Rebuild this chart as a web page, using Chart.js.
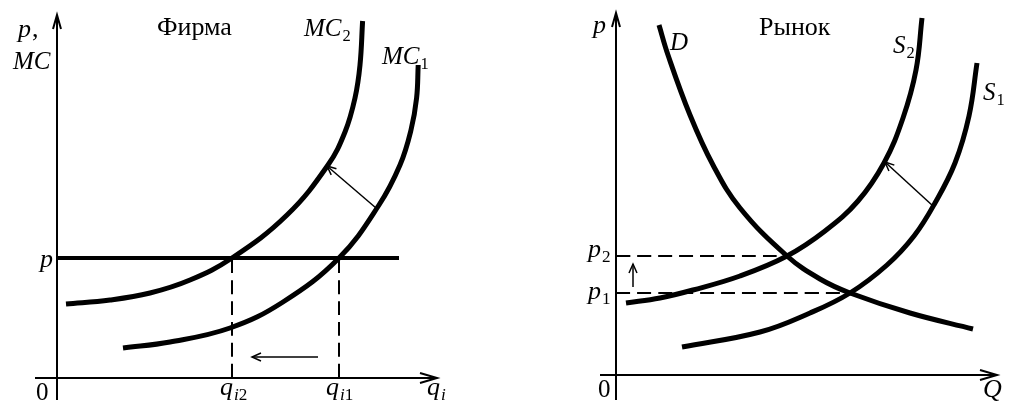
<!DOCTYPE html>
<html>
<head>
<meta charset="utf-8">
<script src="https://cdn.jsdelivr.net/npm/chart.js@4.4.0/dist/chart.umd.min.js"></script>
<style>
  html, body { margin: 0; padding: 0; background: #fff; }
  #wrap { display: flex; width: 1024px; height: 419px; }
  .panel { position: relative; width: 512px; height: 419px; }
</style>
</head>
<body>
<div id="wrap">
  <div class="panel"><canvas id="firm"></canvas></div>
  <div class="panel"><canvas id="market"></canvas></div>
</div>
<script>
// ---- Фирма (left panel) ----
const mc2Q = [2.25, 13.25, 23.25, 33.25, 43.75, 57.5, 67.75, 72, 74.5, 75.75, 76.4];
const mc2P = [18.5, 19.5, 21.25, 24.5, 30, 40.75, 53.25, 61.5, 70, 78.25, 89.25];
const mc1Q = [16.5, 28.25, 43.25, 56.5, 70.5, 80.5, 85.75, 88.5, 89.9, 90.3];
const mc1P = [7.5, 9, 12.5, 19, 30, 43.25, 53.25, 62, 70, 78.25];
const firmPrice = 30;
const firmPriceEnd = 85.5;
const qi2 = 43.75;
const qi1 = 70.5;

// ---- Рынок (right panel) ----
const demandQ = [10.75, 13, 18.5, 24.25, 31, 42.75, 51, 58.5, 73.5, 89.25];
const demandP = [87.5, 80, 65, 52.5, 41.75, 29.75, 24, 20.5, 15.5, 11.5];
const s2Q = [2.5, 11, 19.25, 31, 42.75, 52.25, 60.5, 67, 71.75, 75, 76.5];
const s2P = [18, 19.25, 21.25, 24.75, 29.75, 36, 43.5, 53, 64.25, 76.25, 89.25];
const s1Q = [16.5, 36, 48.5, 58.5, 67.75, 74.5, 79.75, 84.75, 88.25, 90.25];
const s1P = [7, 10.75, 15.5, 20.5, 27.5, 34.75, 43, 53, 64.75, 78];
const p2 = 29.75, q2 = 42.75;
const p1 = 20.5, q1 = 58.5;

const pts = (xs, ys) => xs.map((x, i) => ({ x: x, y: ys[i] }));

function curve(data, width, dash) {
  return {
    data: data,
    borderColor: '#000',
    borderWidth: width,
    borderDash: dash || [],
    pointRadius: 0,
    fill: false,
    showLine: true,
    tension: 0.4,
    borderCapStyle: 'butt'
  };
}

function drawArrow(ctx, x1, y1, x2, y2, len, spread, width) {
  const a = Math.atan2(y2 - y1, x2 - x1);
  ctx.lineWidth = width;
  ctx.beginPath();
  ctx.moveTo(x1, y1);
  ctx.lineTo(x2, y2);
  ctx.stroke();
  ctx.beginPath();
  ctx.moveTo(x2 - len * Math.cos(a) + spread * Math.sin(a), y2 - len * Math.sin(a) - spread * Math.cos(a));
  ctx.lineTo(x2, y2);
  ctx.lineTo(x2 - len * Math.cos(a) - spread * Math.sin(a), y2 - len * Math.sin(a) + spread * Math.cos(a));
  ctx.stroke();
}

function drawLabel(ctx, x, y, parts, size) {
  parts.forEach(p => {
    const sub = p[1].indexOf('s') === 0;
    const it = p[1].indexOf('i') >= 0;
    const s = sub ? size * 0.66 : size;
    ctx.font = (it ? 'italic ' : '') + s + 'px "Liberation Serif", "DejaVu Serif", serif';
    ctx.fillText(p[0], x, y + (sub ? size * 0.2 : 0));
    x += ctx.measureText(p[0]).width + (it && !sub ? 1 : 0);
  });
}

const sketch = {
  id: 'sketch',
  afterDatasetsDraw(chart, args, opts) {
    const ctx = chart.ctx;
    const xs = chart.scales.x, ys = chart.scales.y;
    const X = v => xs.getPixelForValue(v), Y = v => ys.getPixelForValue(v);
    ctx.save();
    ctx.strokeStyle = '#000';
    ctx.fillStyle = '#000';
    ctx.lineCap = 'butt';
    // axes with open arrow heads
    drawArrow(ctx, X(opts.axisX[0]), Y(0), X(opts.axisX[1]), Y(0), 17, 5, 2);
    drawArrow(ctx, X(0), Y(opts.axisY[0]), X(0), Y(opts.axisY[1]), 14, 4, 2);
    opts.arrows.forEach(a => drawArrow(ctx, X(a[0]), Y(a[1]), X(a[2]), Y(a[3]), 9, 4, 1.5));
    ctx.textBaseline = 'alphabetic';
    opts.labels.forEach(l => drawLabel(ctx, X(l.x), Y(l.y), l.parts, l.size));
    ctx.restore();
  }
};

function makeChart(id, datasets, range, extra) {
  return new Chart(document.getElementById(id), {
    type: 'scatter',
    data: { datasets: datasets },
    options: {
      responsive: true,
      maintainAspectRatio: false,
      animation: false,
      layout: { padding: 0 },
      scales: {
        x: { type: 'linear', display: false, min: range[0], max: range[1] },
        y: { type: 'linear', display: false, min: range[2], max: range[3] }
      },
      plugins: { legend: { display: false }, tooltip: { enabled: false }, sketch: extra }
    },
    plugins: [sketch]
  });
}

makeChart('firm', [
  curve([{ x: 0, y: firmPrice }, { x: firmPriceEnd, y: firmPrice }], 4),
  curve([{ x: qi2, y: 0 }, { x: qi2, y: firmPrice }], 2, [14, 7]),
  curve([{ x: qi1, y: 0 }, { x: qi1, y: firmPrice }], 2, [14, 7]),
  curve(pts(mc2Q, mc2P), 5),
  curve(pts(mc1Q, mc1P), 5)
], [-14.25, 113.75, -10.25, 94.5], {
  axisX: [-5.5, 95],
  axisY: [-5.5, 90.75],
  arrows: [[65.25, 5.25, 48.75, 5.25], [79.75, 42.5, 67.5, 53]],
  labels: [
    { x: -9.75, y: 85.25, size: 26, parts: [['p', 'i'], [',', 'n']] },
    { x: -11, y: 77.25, size: 25, parts: [['MC', 'i']] },
    { x: 25, y: 85.75, size: 26, parts: [['Фирма', 'n']] },
    { x: 61.75, y: 85.5, size: 25, parts: [['MC', 'i'], ['2', 's']] },
    { x: 81.25, y: 78.5, size: 25, parts: [['MC', 'i'], ['1', 's']] },
    { x: -4.25, y: 27.75, size: 26, parts: [['p', 'i']] },
    { x: -5.25, y: -5.5, size: 25, parts: [['0', 'n']] },
    { x: 40.75, y: -4.25, size: 26, parts: [['q', 'i'], ['i', 'si'], ['2', 's']] },
    { x: 67.25, y: -4.25, size: 26, parts: [['q', 'i'], ['i', 'si'], ['1', 's']] },
    { x: 92.5, y: -4.25, size: 26, parts: [['q', 'i'], ['i', 'si']] }
  ]
});

makeChart('market', [
  curve([{ x: 0, y: p2 }, { x: q2, y: p2 }], 2, [14, 7]),
  curve([{ x: 0, y: p1 }, { x: q1, y: p1 }], 2, [14, 7]),
  curve(pts(demandQ, demandP), 5),
  curve(pts(s2Q, s2P), 5),
  curve(pts(s1Q, s1P), 5)
], [-26, 102, -11, 93.75], {
  axisX: [-4, 95.25],
  axisY: [-6.25, 90.5],
  arrows: [[4.25, 22, 4.25, 27.75], [79.25, 42.25, 67.25, 53.25]],
  labels: [
    { x: -5.75, y: 85.5, size: 26, parts: [['p', 'i']] },
    { x: 13.5, y: 81.25, size: 25, parts: [['D', 'i']] },
    { x: 35.75, y: 85, size: 26, parts: [['Рынок', 'n']] },
    { x: 69.25, y: 80.5, size: 25, parts: [['S', 'i'], ['2', 's']] },
    { x: 91.75, y: 68.75, size: 25, parts: [['S', 'i'], ['1', 's']] },
    { x: -7, y: 29.5, size: 26, parts: [['p', 'i'], ['2', 's']] },
    { x: -7, y: 19, size: 26, parts: [['p', 'i'], ['1', 's']] },
    { x: -4.5, y: -5.5, size: 25, parts: [['0', 'n']] },
    { x: 91.75, y: -5.5, size: 26, parts: [['Q', 'i']] }
  ]
});
</script>
</body>
</html>
